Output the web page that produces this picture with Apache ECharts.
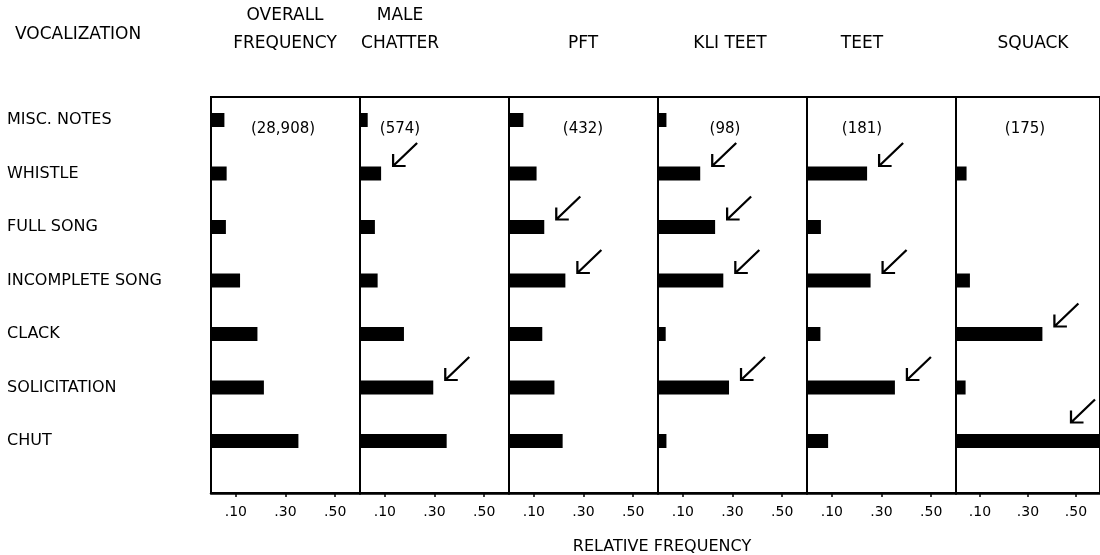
<!DOCTYPE html>
<html><head><meta charset="utf-8">
<script src="https://cdn.jsdelivr.net/npm/echarts@6/dist/echarts.min.js"></script>
<style>html,body{margin:0;padding:0;background:#fff}#c{width:1100px;height:555px}</style>
</head><body><div id="c"></div><script>
// ---- data ----
const categories = ['MISC. NOTES','WHISTLE','FULL SONG','INCOMPLETE SONG','CLACK','SOLICITATION','CHUT'];
const panelTitles = [['OVERALL','FREQUENCY'],['MALE','CHATTER'],['PFT'],['KLI TEET'],['TEET'],['SQUACK']];
const sampleSizes = ['(28,908)','(574)','(432)','(98)','(181)','(175)'];
const overallFrequency = [0.054,0.063,0.060,0.117,0.187,0.213,0.352];
const maleChatter      = [0.031,0.085,0.060,0.071,0.177,0.295,0.349];
const pft              = [0.058,0.111,0.142,0.227,0.134,0.183,0.216];
const kliTeet          = [0.034,0.170,0.230,0.263,0.031,0.286,0.034];
const teet             = [0,0.242,0.056,0.256,0.054,0.354,0.085];
const squack           = [0,0.044,0,0.058,0.360,0.040,0.62];
const markedOverall = [];
const markedMaleChatter = ['WHISTLE','SOLICITATION'];
const markedPft = ['FULL SONG','INCOMPLETE SONG'];
const markedKliTeet = ['WHISTLE','FULL SONG','INCOMPLETE SONG','SOLICITATION'];
const markedTeet = ['WHISTLE','INCOMPLETE SONG','SOLICITATION'];
const markedSquack = ['CLACK','CHUT'];
const tickValues = [0.1,0.3,0.5];
const tickLabels = ['.10','.30','.50'];
const axisTitle = 'RELATIVE FREQUENCY';
const rowHeader = 'VOCALIZATION';

// ---- layout ----
const panels = [overallFrequency, maleChatter, pft, kliTeet, teet, squack];
const marks = [markedOverall, markedMaleChatter, markedPft, markedKliTeet, markedTeet, markedSquack];
const X_MAX = 0.6;
const LEFT0 = 211, PW = 149;
const FRAME_TOP = 97, FRAME_H = 396;
const BAR_TOP = 93.25, BAR_H = 374.5;
const headerX = [285, 400, 583, 730, 862, 1033];
const countX = [283, 400, 583, 725, 862, 1025];
const FONT = 'DejaVu Sans';
const INK = '#000';

const grid = [], xAxis = [], yAxis = [], series = [];
panels.forEach((vals, i) => {
  const left = LEFT0 + i * PW;
  grid.push({left: left, top: BAR_TOP, width: PW, height: BAR_H, containLabel: false});
  xAxis.push({gridIndex: i, type: 'value', min: 0, max: X_MAX, show: false});
  yAxis.push({gridIndex: i, type: 'category', inverse: true, data: categories,
    axisLine: {show: false}, axisTick: {show: false}, splitLine: {show: false},
    axisLabel: {show: i === 0, align: 'left', margin: LEFT0 - 7, fontFamily: FONT, fontSize: 16, color: INK}});
});
panels.forEach((vals, i) => {
  const left = LEFT0 + i * PW;
  grid.push({left: left, top: FRAME_TOP, width: PW, height: FRAME_H, show: true,
    borderColor: '#000', borderWidth: 2, backgroundColor: 'transparent', z: 0});
  xAxis.push({gridIndex: 6 + i, type: 'value', min: 0, max: X_MAX, position: 'bottom',
    splitLine: {show: false},
    axisLine: {show: true, lineStyle: {color: '#000', width: 2.5}},
    axisTick: {show: true, customValues: tickValues, length: 4, inside: false, lineStyle: {color: '#000', width: 1.5}},
    axisLabel: {show: true, customValues: tickValues, margin: 12, fontFamily: FONT, fontSize: 14, color: INK,
      formatter: v => tickLabels[tickValues.findIndex(t => Math.abs(t - v) < 1e-9)] || ''}});
  yAxis.push({gridIndex: 6 + i, type: 'value', show: false});
});
panels.forEach((vals, i) => {
  series.push({type: 'bar', xAxisIndex: i, yAxisIndex: i, data: vals, barWidth: 14,
    itemStyle: {color: '#000'}, silent: true, clip: true, animation: false, z: 3});
  const arrows = marks[i].map(name => {
    const v = vals[categories.indexOf(name)];
    const over = v > X_MAX;
    return {value: [Math.min(v, X_MAX), name], symbolOffset: over ? [-17, -30] : [24, -19]};
  });
  if (arrows.length) series.push({type: 'scatter', xAxisIndex: i, yAxisIndex: i, data: arrows,
    symbol: 'path://M24,0 L1,23 M1,11 L1,23 L13,23', symbolSize: [24, 23], symbolKeepAspect: true,
    itemStyle: {color: 'none', borderColor: '#000', borderWidth: 2.2, opacity: 1},
    silent: true, animation: false, clip: false, z: 4});
});

const graphic = [];
const txt = (text, x, y, align, size) => graphic.push({type: 'text', x: x, y: y, silent: true,
  style: {text: text, fill: INK, font: size + 'px "' + FONT + '"', textAlign: align, textVerticalAlign: 'middle'}});
txt(rowHeader, 15, 35, 'left', 17);
panelTitles.forEach((t, i) => {
  if (t.length === 2) { txt(t[0], headerX[i], 16, 'center', 17); txt(t[1], headerX[i], 44, 'center', 17); }
  else txt(t[0], headerX[i], 44, 'center', 17);
  txt(sampleSizes[i], countX[i], 129, 'center', 15);
});
txt(axisTitle, 662, 547, 'center', 16);

const chart = echarts.init(document.getElementById('c'), null, {renderer: 'canvas'});
chart.setOption({backgroundColor: '#fff', animation: false, grid, xAxis, yAxis, series, graphic});
</script></body></html>
